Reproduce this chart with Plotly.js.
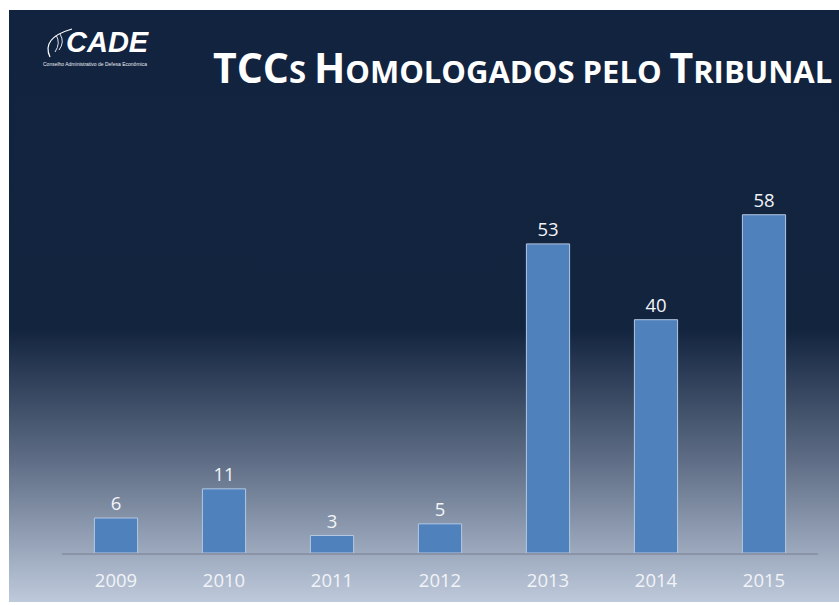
<!DOCTYPE html>
<html>
<head>
<meta charset="utf-8">
<script src="https://cdn.plot.ly/plotly-3.0.1.min.js"></script>
<style>
html,body{margin:0;padding:0;background:#ffffff;}
#bg{position:absolute;left:9px;top:10px;width:830px;height:592px;
background:linear-gradient(to bottom,#12233f 0%,#13243f 54%,#5e6d85 76%,#bec9db 100%);}
#chart{position:absolute;left:0;top:0;width:839px;height:605px;}
</style>
</head>
<body>
<div id="bg"></div>
<div id="chart"></div>
<script>
var years = ['2009','2010','2011','2012','2013','2014','2015'];
var tccs = [6, 11, 3, 5, 53, 40, 58];

var trace = {
  type: 'bar',
  x: years,
  y: tccs,
  text: tccs.map(String),
  textposition: 'outside',
  cliponaxis: false,
  textfont: {family: 'Open Sans, sans-serif', size: 18.5, color: '#f2f4f8'},
  marker: {color: '#4f81bd', line: {color: '#b4c8e2', width: 1}},
  hoverinfo: 'none'
};

var big = 'font-size:41px';
var sm = 'font-size:31px';
var titleText = '<span style="'+big+'">TCC</span><span style="'+sm+'">S</span> ' +
  '<span style="'+big+'">H</span><span style="'+sm+'">OMOLOGADOS PELO</span> ' +
  '<span style="'+big+'">T</span><span style="'+sm+'">RIBUNAL</span>';

function px(x){ return (x-62)/756; }
function py(y){ return (553-y)/403; }

var layout = {
  width: 839, height: 605,
  margin: {l: 62, r: 21, t: 150, b: 52},
  paper_bgcolor: 'rgba(0,0,0,0)',
  plot_bgcolor: 'rgba(0,0,0,0)',
  showlegend: false,
  bargap: 0.6,
  uniformtext: {mode: false},
  xaxis: {
    type: 'category',
    showline: true, linecolor: '#8a94a6', linewidth: 1.5,
    ticks: '', showgrid: false, zeroline: false,
    tickfont: {family: 'Open Sans, sans-serif', size: 18.5, color: '#f2f4f8'},
    ticklabelstandoff: 10
  },
  yaxis: {
    range: [0, 69.1], visible: false, showgrid: false, zeroline: false
  },
  annotations: [
    {
      xref: 'paper', yref: 'paper', xanchor: 'right', yanchor: 'middle',
      x: px(834), y: py(67),
      text: '<b>' + titleText + '</b>', showarrow: false,
      font: {family: 'Open Sans, sans-serif', color: '#ffffff', size: 30}
    },
    {
      xref: 'paper', yref: 'paper', xanchor: 'left', yanchor: 'middle',
      x: px(64), y: py(42),
      text: '<b><i>CADE</i></b>', showarrow: false,
      font: {family: 'Liberation Sans, Arial, sans-serif', color: '#ffffff', size: 29}
    },
    {
      xref: 'paper', yref: 'paper', xanchor: 'left', yanchor: 'middle',
      x: px(41), y: py(64),
      text: 'Conselho Administrativo de Defesa Econômica', showarrow: false,
      font: {family: 'Liberation Sans, Arial, sans-serif', color: '#e8ecf2', size: 5}
    }
  ],
  shapes: [
    {type: 'path', xref: 'paper', yref: 'paper',
     path: 'M ' + px(50) + ' ' + py(57) + ' Q ' + px(41) + ' ' + py(38) + ' ' + px(72) + ' ' + py(29),
     line: {color: '#ffffff', width: 1.2}},
    {type: 'path', xref: 'paper', yref: 'paper',
     path: 'M ' + px(55) + ' ' + py(52) + ' Q ' + px(61) + ' ' + py(43) + ' ' + px(56) + ' ' + py(35),
     line: {color: '#dfe5ee', width: 1}},
    {type: 'path', xref: 'paper', yref: 'paper',
     path: 'M ' + px(59) + ' ' + py(50) + ' Q ' + px(65) + ' ' + py(42) + ' ' + px(60) + ' ' + py(34),
     line: {color: '#dfe5ee', width: 1}}
  ]
};

Plotly.newPlot('chart', [trace], layout, {displayModeBar: false, staticPlot: true});
</script>
</body>
</html>
